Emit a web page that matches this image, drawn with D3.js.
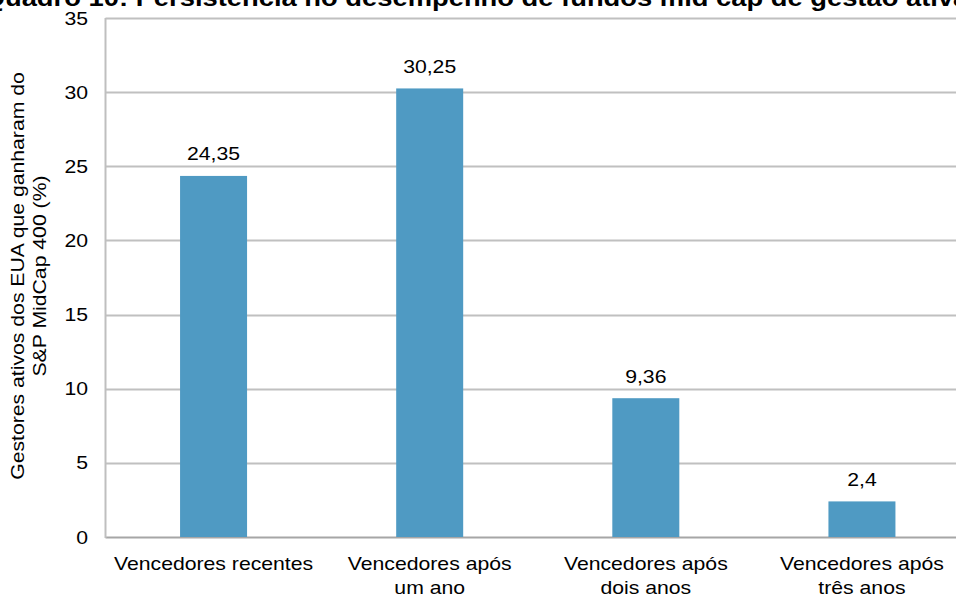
<!DOCTYPE html>
<html><head><meta charset="utf-8">
<script src="https://cdn.jsdelivr.net/npm/d3@7"></script>
<style>body{margin:0;background:#fff;overflow:hidden}svg{display:block}text{font-family:"Liberation Sans",Arial,sans-serif}</style>
</head><body><svg id="c" width="956" height="597"></svg>
<script>
const categories = [["Vencedores recentes"],["Vencedores após","um ano"],["Vencedores após","dois anos"],["Vencedores após","três anos"]];
const values = [24.35, 30.25, 9.36, 2.4];
const valueLabels = ["24,35","30,25","9,36","2,4"];
const yTicks = [0,5,10,15,20,25,30,35];
const title = "Quadro 10: Persistência no desempenho de fundos mid cap de gestão ativa";
const yLabel = ["Gestores ativos dos EUA que ganharam do","S&P MidCap 400 (%)"];

const SX = 1.14; // horizontal stretch of the reference's text
const FS = 18.6;
const svg = d3.select("#c");
const m = {left:105.5, right:970, top:18, bottom:537};
const x = d3.scaleBand().domain(d3.range(values.length)).range([m.left, m.right]).paddingInner(0.69).paddingOuter(0.345);
const y = d3.scaleLinear().domain([0,35]).range([m.bottom, m.top]);

svg.append("text").attr("transform",`translate(476,6) scale(${SX},1)`).attr("text-anchor","middle")
  .attr("font-size",24).attr("font-weight","bold").attr("fill","#000").text(title);

svg.append("g").selectAll("line").data(yTicks).join("line")
  .attr("x1",m.left).attr("x2",m.right).attr("y1",d=>Math.round(y(d))+0.5).attr("y2",d=>Math.round(y(d))+0.5)
  .attr("stroke",d=>d===0?"#a6a6a6":"#c0c0c0").attr("stroke-width",2);
svg.append("line").attr("x1",m.left).attr("x2",m.left).attr("y1",m.top).attr("y2",m.bottom+1)
  .attr("stroke","#bfbfbf").attr("stroke-width",2);

svg.append("g").selectAll("text").data(yTicks).join("text")
  .attr("transform",d=>`translate(88,${y(d)+6.5}) scale(${SX},1)`).attr("text-anchor","end")
  .attr("font-size",FS).attr("fill","#000").text(d=>d);

svg.append("g").selectAll("rect").data(values).join("rect")
  .attr("x",(d,i)=>x(i)).attr("width",x.bandwidth()).attr("y",d=>y(d)).attr("height",d=>y(0)-y(d)).attr("fill","#4f9ac3");

svg.append("g").selectAll("text").data(values).join("text")
  .attr("transform",(d,i)=>`translate(${x(i)+x.bandwidth()/2},${y(d)-15.7}) scale(${SX},1)`).attr("text-anchor","middle")
  .attr("font-size",FS).attr("fill","#000").text((d,i)=>valueLabels[i]);

categories.forEach((lines,i)=>{
  lines.forEach((s,j)=>{
    svg.append("text").attr("transform",`translate(${x(i)+x.bandwidth()/2},${569.5+j*24.5}) scale(${SX},1)`)
      .attr("text-anchor","middle").attr("font-size",FS).attr("fill","#000").text(s);
  });
});

yLabel.forEach((s,j)=>{
  svg.append("text").attr("transform",`translate(${23.5+j*22},276) rotate(-90) scale(${SX},1)`)
    .attr("text-anchor","middle").attr("font-size",FS).attr("fill","#000").text(s);
});
</script></body></html>
